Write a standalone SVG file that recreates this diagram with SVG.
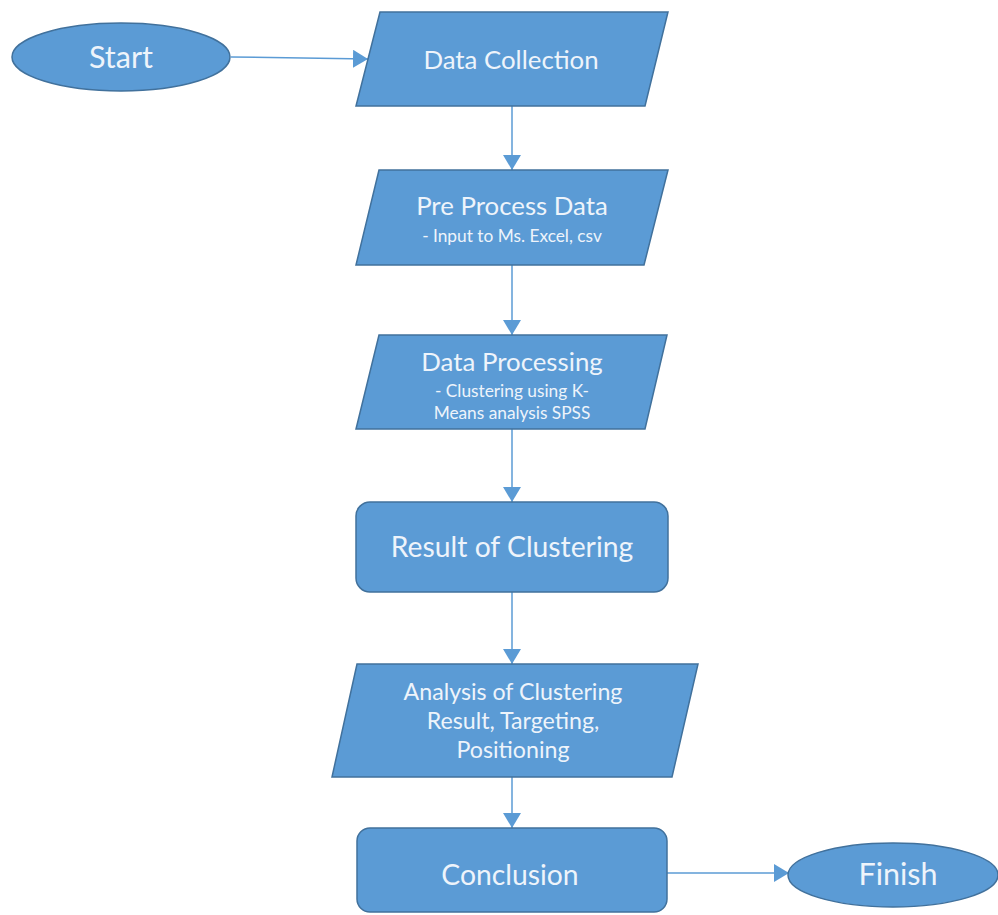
<svg xmlns="http://www.w3.org/2000/svg" width="998" height="915" viewBox="0 0 998 915">
<defs>
<style>
.shape{fill:#5B9BD5;stroke:#41719C;stroke-width:1.5}
.conn{fill:none;stroke:#5B9BD5;stroke-width:1.5}
text{font-family:Lato,"Open Sans","Liberation Sans",sans-serif;fill:#EEF4FB;text-anchor:middle}
.t24{font-size:25.8px}
.t28{font-size:28.3px}
.t30{font-size:30.5px}
.t17{font-size:17.3px}
.t20{font-size:23.2px}
</style>
<marker id="ah" markerUnits="userSpaceOnUse" markerWidth="16" markerHeight="18" refX="15" refY="9" orient="auto">
<path d="M0,0 L15,9 L0,18 Z" fill="#5B9BD5"/>
</marker>
</defs>
<rect width="998" height="915" fill="#FFFFFF"/>
<g id="connectors">
<line class="conn" x1="231" y1="57" x2="368" y2="59" marker-end="url(#ah)"/>
<line class="conn" x1="512" y1="106" x2="512" y2="170" marker-end="url(#ah)"/>
<line class="conn" x1="512" y1="265" x2="512" y2="335" marker-end="url(#ah)"/>
<line class="conn" x1="512" y1="429" x2="512" y2="502" marker-end="url(#ah)"/>
<line class="conn" x1="512" y1="592" x2="512" y2="664" marker-end="url(#ah)"/>
<line class="conn" x1="512" y1="777" x2="512" y2="828" marker-end="url(#ah)"/>
<line class="conn" x1="667" y1="873" x2="789" y2="873" marker-end="url(#ah)"/>
</g>
<g id="start">
<ellipse class="shape" cx="121" cy="57" rx="109" ry="34"/>
<text class="t30" x="121" y="68">Start</text>
</g>
<g id="data-collection">
<polygon class="shape" points="380,12 668,12 645,106 356,106"/>
<text class="t24" x="511" y="69">Data Collection</text>
</g>
<g id="pre-process">
<polygon class="shape" points="379,170 668,170 644,265 356,265"/>
<text class="t24" x="512" y="215">Pre Process Data</text>
<text class="t17" x="512" y="242">- Input to Ms. Excel, csv</text>
</g>
<g id="data-processing">
<polygon class="shape" points="379,335 667,335 645,429 356,429"/>
<text class="t24" x="512" y="371">Data Processing</text>
<text class="t17" x="512" y="397">- Clustering using K-</text>
<text class="t17" x="512" y="419">Means analysis SPSS</text>
</g>
<g id="result">
<rect class="shape" x="356" y="502" width="312" height="90" rx="14" ry="14"/>
<text class="t28" x="512" y="557">Result of Clustering</text>
</g>
<g id="analysis">
<polygon class="shape" points="357,664 698,664 672,777 332,777"/>
<text class="t20" x="513" y="700">Analysis of Clustering</text>
<text class="t20" x="513" y="729">Result, Targeting,</text>
<text class="t20" x="513" y="758">Positioning</text>
</g>
<g id="conclusion">
<rect class="shape" x="357" y="828" width="310" height="84" rx="13" ry="13"/>
<text class="t28" x="510" y="885">Conclusion</text>
</g>
<g id="finish">
<ellipse class="shape" cx="893" cy="875" rx="105" ry="32"/>
<text class="t30" x="898" y="885">Finish</text>
</g>
</svg>
